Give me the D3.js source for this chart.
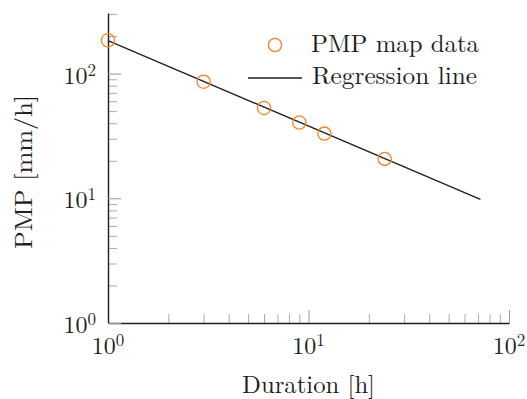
<!DOCTYPE html>
<html>
<head>
<meta charset="utf-8">
<script src="https://cdn.jsdelivr.net/npm/d3@7"></script>
<style>
  body { margin: 0; background: #fff; }
</style>
</head>
<body>
<svg id="chart" width="527" height="399"></svg>
<script>
// PMP intensity versus storm duration, log-log
const durations = [1, 3, 6, 9, 12, 24];
const pmpValues = [185, 86, 53, 40.5, 33, 20.7];
const regressionDurations = [1, 72];
const regressionValues = [184, 9.8];

const xMajorTicks = [1, 10, 100];
const xMinorTicks = [2, 3, 4, 5, 6, 7, 8, 9, 20, 30, 40, 50, 60, 70, 80, 90];
const yMajorTicks = [1, 10, 100];
const yMinorTicks = [2, 3, 4, 5, 6, 7, 8, 9, 20, 30, 40, 50, 60, 70, 80, 90, 200, 300];
const tickExponents = ["0", "1", "2"];

const legendLabels = ["PMP map data", "Regression line"];
const xTitle = "Duration [h]";
const yTitle = "PMP [mm/h]";

const orange = "rgb(246,131,42)";
const ink = "#1e1e1e";
const fontStack = '"Latin Modern Roman", "Liberation Serif", serif';
const markerRadius = 6.6;

const svg = d3.select("#chart")
  .attr("font-family", fontStack);

const x = d3.scaleLog().domain([1, 100]).range([108, 509]);
const y = d3.scaleLog().domain([1, 306]).range([323, 13]);

// minor ticks (inward)
const xMinor = svg.append("g").attr("transform", "translate(0,323)")
  .call(d3.axisBottom(x).tickValues(xMinorTicks).tickSize(-9).tickSizeOuter(0).tickFormat(() => ""));
xMinor.select(".domain").remove();
xMinor.selectAll(".tick line").attr("stroke", "#aaa").attr("stroke-width", 1);

const yMinor = svg.append("g").attr("transform", "translate(108,0)")
  .call(d3.axisLeft(y).tickValues(yMinorTicks).tickSize(-9).tickSizeOuter(0).tickFormat(() => ""));
yMinor.select(".domain").remove();
yMinor.selectAll(".tick line").attr("stroke", "#aaa").attr("stroke-width", 1);

// major ticks and axis lines
const xMajor = svg.append("g").attr("transform", "translate(0,323)")
  .call(d3.axisBottom(x).tickValues(xMajorTicks).tickSize(-13).tickSizeOuter(0).tickFormat(() => ""));
xMajor.selectAll(".tick line").attr("stroke", "#999").attr("stroke-width", 1);
xMajor.select(".domain").attr("stroke", ink).attr("stroke-width", 1.4);

const yMajor = svg.append("g").attr("transform", "translate(108,0)")
  .call(d3.axisLeft(y).tickValues(yMajorTicks).tickSize(-13).tickSizeOuter(0).tickFormat(() => ""));
yMajor.selectAll(".tick line").attr("stroke", "#999").attr("stroke-width", 1);
yMajor.select(".domain").attr("stroke", ink).attr("stroke-width", 1.4);

svg.selectAll(".tick text").remove();

// power-of-ten tick labels
function powerLabel(sel) {
  sel.append("tspan").text("10");
  sel.append("tspan").attr("dy", -8).attr("font-size", 17).text((d, i) => tickExponents[i]);
}

svg.append("g").selectAll("text").data(xMajorTicks).join("text")
  .attr("x", d => x(d)).attr("y", 354)
  .attr("text-anchor", "middle").attr("font-size", 24).attr("fill", ink)
  .call(powerLabel);

svg.append("g").selectAll("text").data(yMajorTicks).join("text")
  .attr("x", 96).attr("y", d => y(d) + 10)
  .attr("text-anchor", "end").attr("font-size", 24).attr("fill", ink)
  .call(powerLabel);

// axis titles
svg.append("text")
  .attr("x", 308.5).attr("y", 393)
  .attr("text-anchor", "middle").attr("font-size", 24.5).attr("fill", ink)
  .attr("textLength", 133).attr("lengthAdjust", "spacingAndGlyphs")
  .text(xTitle);

svg.append("text")
  .attr("transform", "translate(32,172) rotate(-90)")
  .attr("text-anchor", "middle").attr("font-size", 24.5).attr("fill", ink)
  .attr("textLength", 154).attr("lengthAdjust", "spacingAndGlyphs")
  .text(yTitle);

// regression line
const line = d3.line().x(d => x(d[0])).y(d => y(d[1]));
svg.append("path")
  .datum(d3.zip(regressionDurations, regressionValues))
  .attr("d", line)
  .attr("fill", "none").attr("stroke", ink).attr("stroke-width", 1.3);

// data markers
svg.append("g").selectAll("circle").data(d3.zip(durations, pmpValues)).join("circle")
  .attr("cx", d => x(d[0])).attr("cy", d => y(d[1])).attr("r", markerRadius)
  .attr("fill", "none").attr("stroke", orange).attr("stroke-width", 1.3);

// legend
const legend = svg.append("g");
legend.append("circle").attr("cx", 275).attr("cy", 45).attr("r", markerRadius)
  .attr("fill", "none").attr("stroke", orange).attr("stroke-width", 1.3);
legend.append("text").attr("x", 311).attr("y", 52).attr("font-size", 24.5).attr("fill", ink)
  .attr("textLength", 168).attr("lengthAdjust", "spacingAndGlyphs")
  .text(legendLabels[0]);
legend.append("line").attr("x1", 248).attr("x2", 302).attr("y1", 78).attr("y2", 78)
  .attr("stroke", ink).attr("stroke-width", 1.3);
legend.append("text").attr("x", 312).attr("y", 83.5).attr("font-size", 24.5).attr("fill", ink)
  .attr("textLength", 165).attr("lengthAdjust", "spacingAndGlyphs")
  .text(legendLabels[1]);
</script>
</body>
</html>
